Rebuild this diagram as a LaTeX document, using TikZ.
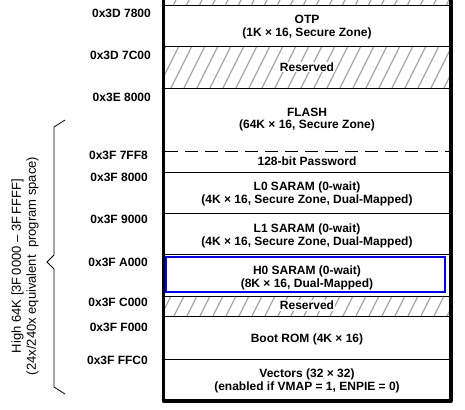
\documentclass[tikz,border=0pt]{standalone}
\usepackage{fontspec}
\setmainfont{Liberation Sans}
\usetikzlibrary{positioning}

\tikzset{
  memtext/.style={font=\fontsize{12}{12.5}\selectfont\bfseries, align=center, inner sep=1pt},
  addr/.style={font=\fontsize{12}{12.5}\selectfont\bfseries, anchor=east, inner sep=0pt},
  rsvd/.style={memtext, fill=white},
  rowline/.style={line width=0.8pt},
  hatchline/.style={black!35, line width=1.2pt},
  border/.style={line width=3.2pt, line join=round},
}

\begin{document}
\begin{tikzpicture}[x=1pt,y=-1pt]
  \useasboundingbox (0,0) rectangle (465,409);
  % hatched (reserved) strips
  \foreach \ya/\yb in {0/5, 46/88, 296/316} {
    \begin{scope}
      \clip (163.5,\ya) rectangle (451,\yb);
      \foreach \k in {0,...,36}
        \draw[hatchline] ({150+13*\k-0.5*\yb},\yb) -- ({150+13*\k-0.5*\ya},\ya);
    \end{scope}
  }
  % row boundaries
  \foreach \y in {5,46,88,172,213,254,296,316,359}
    \draw[rowline] (163.5,\y) -- (451,\y);
  \draw[rowline, dash pattern=on 13pt off 7pt] (165,151) -- (451,151);
  \draw[blue!90!black, line width=1.6pt] (166,257) rectangle (445,292);
  % outer frame
  \draw[border] (163.5,0) -- (163.5,401) -- (451,401) -- (451,0);

  % block contents
  \node[memtext] (otp) at (307,27) {OTP\\(1K × 16, Secure Zone)};
  \node[rsvd] (rsvdA) at (307,67) {Reserved};
  \node[memtext] (flash) at (307,119.5) {FLASH\\(64K × 16, Secure Zone)};
  \node[memtext] (pwd) at (307,161) {128-bit Password};
  \node[memtext] (lzero) at (307,194) {L0 SARAM (0-wait)\\(4K × 16, Secure Zone, Dual-Mapped)};
  \node[memtext] (lone) at (307,236) {L1 SARAM (0-wait)\\(4K × 16, Secure Zone, Dual-Mapped)};
  \node[memtext] (hzero) at (307,278) {H0 SARAM (0-wait)\\(8K × 16, Dual-Mapped)};
  \node[rsvd] (rsvdB) at (307,305.5) {Reserved};
  \node[memtext] (boot) at (307,339) {Boot ROM (4K × 16)};
  \node[memtext] (vect) at (307,381) {Vectors (32 × 32)\\(enabled if VMAP = 1, ENPIE = 0)};

  % start addresses
  \node[addr] (aotp) at (151,13) {0x3D 7800};
  \node[addr] (arsvdA) at (151,55) {0x3D 7C00};
  \node[addr] (aflash) at (151,97) {0x3E 8000};
  \node[addr] (apwd) at (148,155) {0x3F 7FF8};
  \node[addr] (alzero) at (148,177) {0x3F 8000};
  \node[addr] (alone) at (148,219) {0x3F 9000};
  \node[addr] (ahzero) at (148,262) {0x3F A000};
  \node[addr] (arsvdB) at (148,302) {0x3F C000};
  \node[addr] (aboot) at (148,327) {0x3F F000};
  \node[addr] (avect) at (148,360) {0x3F FFC0};

  % brace over the high 64K
  \draw[line width=0.8pt] (65,120) -- (54,127) -- (54,255) -- (47,262)
    -- (54,269) -- (54,387) -- (65,394);
  \node[rotate=90, align=center, font=\fontsize{13}{15}\selectfont] (high) at (25,266)
    {High 64K [3F\,0000 – 3F\,FFFF]\\(24x/240x equivalent\ \ program space)};
\end{tikzpicture}
\end{document}
